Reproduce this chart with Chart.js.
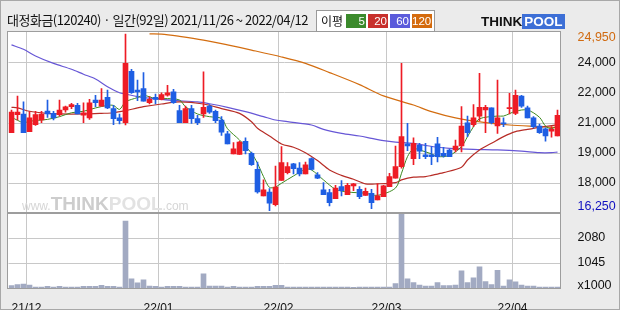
<!DOCTYPE html>
<html>
<head>
<meta charset="utf-8">
<title>대정화금 일간 차트</title>
<script src="https://cdn.jsdelivr.net/npm/chart.js"></script>
<style>
  html, body { margin: 0; padding: 0; }
  body { width: 620px; height: 310px; background: #ebebeb; position: relative; overflow: hidden; font-family: "Noto Sans CJK KR", sans-serif; }
  #frame { position: absolute; left: 0; top: 0; width: 618px; height: 308px; border: 1px solid #a8a8a8; }
  #plotbg { position: absolute; left: 8px; top: 32px; width: 553px; height: 256px; background: #fff; }
  #c { position: absolute; left: 0; top: 0; }
  #title { position: absolute; left: 7px; top: 10px; font-size: 13px; color: #111; letter-spacing: -0.5px; white-space: nowrap; }
  #legend { position: absolute; left: 316px; top: 10px; width: 117px; height: 20px; border: 1px solid #999; background: #fff; font-size: 12px; }
  #legend .lb { position: absolute; left: 4px; top: 1px; color: #111; }
  #legend .bx { position: absolute; top: 3px; width: 20px; height: 14px; color: #fff; font-size: 11.5px; line-height: 14px; text-align: right; font-family: "Liberation Sans", sans-serif; padding-right: 1px; box-sizing: border-box; }
  #logo { position: absolute; left: 481px; top: 14px; height: 16px; font-family: "Liberation Sans", sans-serif; font-weight: bold; font-size: 13.5px; line-height: 16px; white-space: nowrap; }
  #logo .t { color: #111; }
  #logo .p { color: #fff; background: #3d6fd6; padding: 0 2px; }
  #wm { position: absolute; left: 22px; top: 193px; white-space: nowrap; font-family: "Liberation Sans", sans-serif; color: #d6d6d6; }
  #wm .s { font-size: 12px; }
  #wm .b { font-size: 19px; font-weight: bold; color: #cdcdcd; }
  #wm .q { font-size: 19px; font-weight: bold; color: #e2e2e2; }
</style>
</head>
<body>
<div id="frame"></div>
<div id="plotbg"></div>
<canvas id="c" width="620" height="310"></canvas>
<div id="title">대정화금(120240) · 일간(92일) 2021/11/26 ~ 2022/04/12</div>
<div id="legend">
  <span class="lb">이평</span>
  <span class="bx" style="left:29px;background:#3b8a2c">5</span>
  <span class="bx" style="left:51px;background:#c8302c">20</span>
  <span class="bx" style="left:73px;background:#5b5bdb">60</span>
  <span class="bx" style="left:95px;background:#d46a0c">120</span>
</div>
<div id="logo"><span class="t">THINK</span><span class="p">POOL</span></div>
<div id="wm"><span class="s">www.</span><span class="b">THINK</span><span class="q">POOL</span><span class="s">.com</span></div>
<script>
// daily candles, 2021/11/26 ~ 2022/04/12 (92 trading days)
const opens = [20110,20980,21010,20160,20500,20720,21150,21040,20980,21200,
  21360,21430,20950,20820,21680,21390,21810,21270,20820,20590,
  23060,22160,22230,21550,21810,21710,21910,22070,21170,20590,
  21270,20790,21010,21390,21140,20720,20050,19090,19060,19700,
  19120,18350,17070,17260,16650,17810,18190,18610,18410,18130,
  18860,18090,17360,17230,16940,17520,17130,17550,17390,17100,
  17200,16880,17040,17520,17930,18480,19570,18860,19500,19050,
  19050,19570,19120,19280,19280,19470,20590,20500,20910,21200,
  21300,20430,20590,21270,21040,21870,21300,20820,20430,20300,
  20180,19950];
const highs = [21200,21870,21590,21120,21140,21140,21680,21140,21680,21390,
  21520,21520,21550,21710,21910,22230,22160,21430,21010,24850,
  23160,22640,23000,21840,21970,22030,22390,22190,21430,21390,
  21430,20950,23030,21460,21200,20880,20180,19630,19700,19860,
  19180,18700,17840,17420,18510,19440,18670,18640,18670,18700,
  18900,18190,17710,17390,17580,17810,17680,17680,17520,17450,
  17390,17650,17580,18160,19470,23440,20560,19860,19600,19600,
  19440,19890,19410,19310,19760,21360,20910,21460,22960,21430,
  21300,22640,20820,22000,22160,21910,21390,20880,20530,20340,
  20400,21200];
const lows = [20110,20720,20110,20160,20460,20590,20850,20720,20910,21100,
  21260,21010,20590,20750,21360,21390,21260,20500,20530,20480,
  22000,21650,21620,21490,21490,21680,21870,21520,20590,20590,
  20560,20500,20850,21040,20590,19980,19570,19090,19060,19090,
  18540,17200,17070,16360,16590,17810,18130,18130,18030,18130,
  18320,17900,17130,16590,16940,17070,17130,17320,16940,17100,
  16460,16880,17040,17520,17930,18410,19250,18570,18860,18860,
  18570,18700,18930,18960,19180,19180,19920,20400,20690,20110,
  20530,20080,20400,21010,20980,21330,20820,20340,20080,19700,
  19890,19950];
const closes = [21100,21100,20110,20820,20980,21010,21010,20820,21200,21350,
  21460,21010,21070,21550,21550,21680,21300,20790,20690,23440,
  22030,22070,21620,21710,21710,21940,22030,21550,20590,21270,
  20790,20590,21330,21100,20690,20140,19570,19340,19660,19250,
  18570,17260,17360,16720,17490,18670,18480,18380,18130,18570,
  18350,17930,17130,16750,17450,17320,17580,17650,17040,17290,
  16750,17070,17550,18000,18480,19920,19470,19600,19220,18960,
  18960,18960,18990,18960,19470,20430,20110,20820,21330,21330,
  20590,20820,20530,21300,21910,21390,20820,20400,20110,19950,
  20270,20950];
// volume, x1000 shares
const volumes = [98,140,168,126,42,42,70,42,70,42,
  42,42,70,70,70,112,70,70,42,2784,
  378,210,336,84,70,42,70,70,70,42,
  42,42,588,84,84,84,42,70,42,42,
  42,70,70,70,112,112,42,35,35,42,
  42,35,35,35,35,35,35,30,35,35,
  35,35,35,42,182,3064,378,224,126,84,
  84,224,98,98,126,714,224,420,882,266,
  140,740,84,336,252,126,84,84,42,42,
  42,42];

// moving averages (day index, price)
const ma5Idx = [0,2,3,6,8,10,12,14,16,17,18,19,21,22,24,26,28,29,31,33,35,36,38,40,41,42,43,44,45,47,49,50,52,54,56,59,61,64,65,66,67,68,70,71,73,75,76,77,78,81,82,84,86,88,89,90,91];
const ma5Val = [20850,20590,20660,20750,20880,21070,21140,21300,21420,21420,21230,21590,21800,21910,21750,21750,21680,21360,21010,20880,20790,20300,19760,19120,18640,18000,17480,17500,17680,18030,18350,18320,17840,17390,17260,17200,17100,17450,18160,18960,19340,19280,19090,18960,19020,19440,19920,20400,20780,20910,20910,21140,21200,20850,20430,20300,20460];
const ma20Idx = [0,1,3,6,8,12,15,17,19,21,22,25,28,32,35,38,40,41,43,45,47,49,51,53,55,57,59,61,64,65,67,69,70,72,75,76,78,80,82,84,86,88,90,91];
const ma20Val = [21330,21300,21140,21040,21010,21010,21040,21070,21170,21300,21360,21490,21590,21490,21270,21040,20640,20320,19950,19570,19410,19150,18770,18320,18060,17870,17650,17650,17710,17840,17970,18000,18060,18190,18450,18800,19280,19600,19920,20160,20270,20370,20450,20480];
const ma60Idx = [0,2,4,7,10,12,14,16,18,19,21,22,25,27,31,33,36,39,42,44,46,50,52,55,58,60,62,64,67,69,71,73,77,81,85,88,90,91];
const ma60Val = [24330,24120,23800,23440,23160,22920,22690,22320,22030,21970,21840,21800,21710,21660,21590,21500,21330,21120,20880,20720,20640,20480,20270,20080,19950,19840,19730,19660,19600,19500,19410,19360,19310,19280,19220,19150,19150,19180];
const ma120Idx = [23,25,28,32,36,40,45,49,53,58,62,67,70,74,79,83,88,91];
const ma120Val = [24860,24850,24740,24560,24330,24080,23750,23440,23000,22420,21880,21440,21120,20820,20590,20480,20400,20350];

// axes
const monthIdx = [3, 25, 45, 63, 84];
const monthLabels = ['21/12', '22/01', '22/02', '22/03', '22/04'];
const priceMin = 16250, priceMax = 24950;
const priceTicks = [16250, 17700, 19150, 20600, 22050, 23500, 24950];
const priceTickLabels = ['16,250', '18,000', '19,000', '21,000', '22,000', '24,000', '24,950'];
const volMax = 3120;
const volTicks = [0, 1040, 2080];
const volTickLabels = ['x1000', '1045', '2080'];

const RED = '#ee1c25', BLUE = '#1f5fe3', VOL = '#a2aac2', GRID = '#c8c8c8';
const PRICE_H = 181, VOL_H = 75;
const days = opens.map((_, i) => i);
const candleColor = days.map(i => closes[i] >= opens[i] ? RED : BLUE);
const pts = (xs, ys) => xs.map((x, k) => ({ x: x, y: ys[k] }));

const panels = {
  id: 'panels',
  beforeDatasetsDraw(chart) {
    // grid: month boundaries and the inner price / volume levels
    const { ctx, chartArea: a, scales } = chart;
    ctx.save();
    ctx.globalCompositeOperation = 'source-over';
    ctx.globalAlpha = 1;
    ctx.setLineDash([]);
    ctx.strokeStyle = GRID;
    ctx.lineWidth = 1;
    ctx.beginPath();
    monthIdx.forEach(i => {
      const px = Math.round(scales.x.getPixelForValue(i - 0.5)) - 0.5;
      ctx.moveTo(px, a.top);
      ctx.lineTo(px, a.bottom);
    });
    [[scales.y, priceTicks.slice(1, -1)], [scales.yv, volTicks.slice(1)]].forEach(([s, vals]) => {
      vals.forEach(v => {
        const py = Math.round(s.getPixelForValue(v)) + 0.5;
        ctx.moveTo(a.left, py);
        ctx.lineTo(a.right, py);
      });
    });
    ctx.stroke();
    ctx.restore();
  },
  afterDraw(chart) {
    const { ctx, chartArea: a, scales } = chart;
    ctx.save();
    ctx.strokeStyle = '#9d9d9d';
    ctx.lineWidth = 1;
    [scales.y, scales.yv].forEach(s => {
      ctx.strokeRect(Math.floor(a.left) - 0.5, Math.round(s.top) - 0.5,
        Math.round(a.right - a.left) + 1, Math.round(s.bottom - s.top) + 1);
    });
    ctx.restore();
  }
};

// edge labels sit a few pixels inside the panel, as in the original
const nudge = (s, vals, h, px) => {
  const per = (s.max - s.min) / h;
  s.ticks = vals.map((v, k) => ({
    value: k === 0 ? v + px[0] * per : (k === vals.length - 1 ? v - px[1] * per : v)
  }));
};

new Chart(document.getElementById('c'), {
  data: {
    datasets: [
      { type: 'bar', data: days.map(i => ({ x: i, y: [lows[i], highs[i]] })), backgroundColor: candleColor,
        barThickness: 1, grouped: false, yAxisID: 'y' },
      { type: 'bar', data: days.map(i => ({ x: i, y: [opens[i], closes[i]] })), backgroundColor: candleColor,
        barThickness: 5, minBarLength: 1, grouped: false, yAxisID: 'y' },
      { type: 'line', data: pts(ma5Idx, ma5Val), borderColor: '#3d8a20', borderWidth: 1, pointRadius: 0, tension: 0.3, fill: false, yAxisID: 'y' },
      { type: 'line', data: pts(ma20Idx, ma20Val), borderColor: '#b72d27', borderWidth: 1.2, pointRadius: 0, tension: 0.3, fill: false, yAxisID: 'y' },
      { type: 'line', data: pts(ma60Idx, ma60Val), borderColor: '#6757d6', borderWidth: 1.2, pointRadius: 0, tension: 0.3, fill: false, yAxisID: 'y' },
      { type: 'line', data: pts(ma120Idx, ma120Val), borderColor: '#d36d10', borderWidth: 1.2, pointRadius: 0, tension: 0.3, fill: false, yAxisID: 'y' },
      { type: 'bar', data: days.map(i => ({ x: i, y: volumes[i] })), backgroundColor: VOL,
        barThickness: 5, grouped: false, yAxisID: 'yv' }
    ]
  },
  options: {
    responsive: false,
    animation: false,
    layout: { padding: { left: 8.5, top: 32, right: 0, bottom: 0 } },
    plugins: { legend: { display: false }, tooltip: { enabled: false } },
    scales: {
      x: {
        type: 'linear', min: -0.5, max: 91.5, offset: false,
        afterBuildTicks: s => { s.ticks = monthIdx.map(i => ({ value: i - 0.5 })); },
        afterFit: s => { s.height = 22; },
        ticks: { callback: (v, k) => monthLabels[k], color: '#111', padding: 5, maxRotation: 0, autoSkip: false,
          font: { family: 'Liberation Sans', size: 12 } },
        grid: { display: false },
        border: { display: false }
      },
      y: {
        type: 'linear', position: 'right', stack: 'p', stackWeight: PRICE_H,
        min: priceMin, max: priceMax,
        afterBuildTicks: s => nudge(s, priceTicks, PRICE_H, [6, 6]),
        afterFit: s => { s.width = 59.5; },
        ticks: { callback: (v, k) => priceTickLabels[k], padding: 9, crossAlign: 'near', autoSkip: false,
          color: c => c.index === 0 ? '#1010c0' : (c.index === priceTicks.length - 1 ? '#d06a10' : '#111'),
          font: { family: 'Liberation Sans', size: 12.5 } },
        grid: { display: false },
        border: { display: false }
      },
      yv: {
        type: 'linear', position: 'right', stack: 'p', stackWeight: VOL_H,
        min: 0, max: volMax,
        afterBuildTicks: s => nudge(s, volTicks, VOL_H, [2, 0]),
        afterFit: s => { s.width = 59.5; },
        ticks: { callback: (v, k) => volTickLabels[k], padding: 9, crossAlign: 'near', color: '#111', autoSkip: false,
          font: { family: 'Liberation Sans', size: 12.5 } },
        grid: { display: false },
        border: { display: false }
      }
    }
  },
  plugins: [panels]
});
</script>
</body>
</html>
